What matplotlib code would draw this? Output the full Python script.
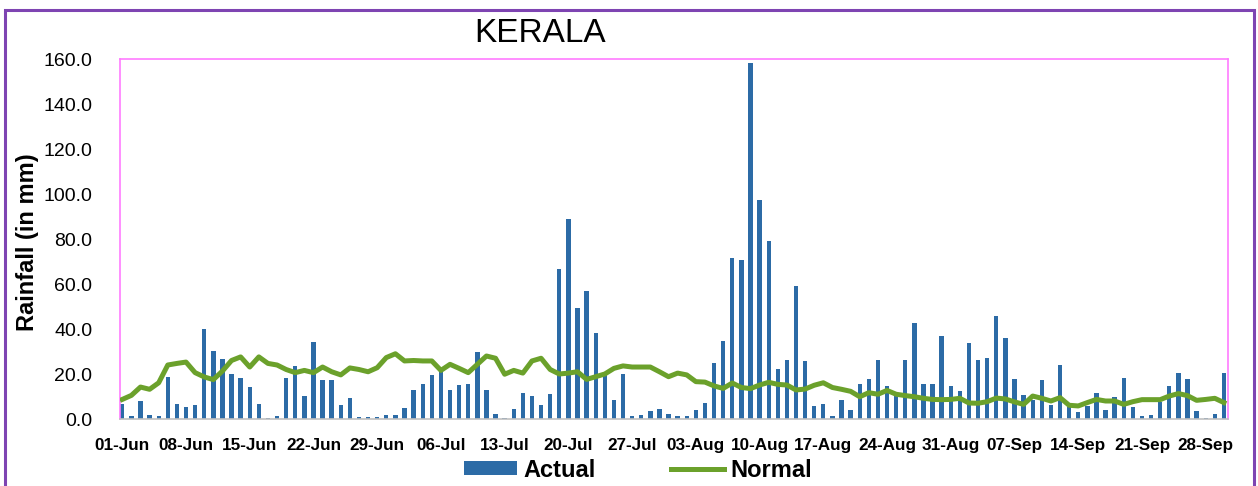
import numpy as np
import matplotlib
matplotlib.use("Agg")
import matplotlib.pyplot as plt
from matplotlib.patches import Rectangle, Patch
from matplotlib.lines import Line2D

plt.rcParams['font.family'] = ['Liberation Sans', 'DejaVu Sans']

title = "KERALA"
ylabel = "Rainfall (in mm)"
tick_labels = ["01-Jun", "08-Jun", "15-Jun", "22-Jun", "29-Jun", "06-Jul", "13-Jul",
               "20-Jul", "27-Jul", "03-Aug", "10-Aug", "17-Aug", "24-Aug", "31-Aug",
               "07-Sep", "14-Sep", "21-Sep", "28-Sep"]

actual = [
    6.8, 1.2, 8.0, 1.6, 1.2, 18.8, 6.8, 5.2, 6.2, 39.9, 30.2, 26.8, 20.0, 18.2, 14.2, 6.8, 0.6, 1.2, 18.2, 23.4, 10.2,
    34.4, 17.2, 17.2, 6.4, 9.2, 0.7, 0.7, 0.7, 1.6, 1.6, 4.7, 12.7, 15.6, 19.6, 21.2, 12.7, 15.0, 15.6, 29.8, 12.7, 2.4,
    0.6, 4.6, 11.4, 10.4, 6.4, 11.0, 66.7, 88.9, 49.2, 57.0, 38.2, 20.6, 8.6, 20.0, 1.2, 1.8, 3.4, 4.6, 2.4, 1.2,
    1.2, 4.0, 7.0, 25.0, 34.7, 71.4, 70.7, 158.4, 97.3, 79.3, 22.2, 26.2, 59.3, 25.6, 5.6, 6.8, 1.2, 8.6, 4.0, 15.4,
    17.6, 26.2, 14.8, 10.2, 26.2, 42.8, 15.4, 15.4, 37.0, 14.8, 12.6, 33.6, 26.2, 27.3, 46.0, 35.9, 17.6, 10.8, 8.6,
    17.2, 6.4, 24.0, 5.3, 3.0, 5.8, 11.4, 4.0, 9.8, 18.2, 5.2, 1.2, 1.8, 7.4, 14.8, 20.6, 17.6, 3.4, 0.6, 2.4, 20.6,
]

normal = [
    8.7, 10.5, 14.2, 13.2, 16.1, 24.0, 24.7, 25.3, 20.6, 18.7, 17.5, 21.3, 26.0, 27.6, 23.1, 27.6, 24.7, 24.0, 22.0, 20.6, 21.6,
    20.6, 23.1, 21.0, 19.6, 22.7, 22.0, 21.0, 22.8, 27.3, 29.0, 25.8, 26.0, 25.8, 25.8, 21.6, 24.3, 22.5, 20.6, 24.3, 28.0, 27.0,
    19.9, 21.6, 20.4, 25.8, 27.0, 22.0, 20.0, 20.4, 21.0, 17.6, 18.8, 20.0, 22.5, 23.6, 23.1, 23.1, 23.1, 21.0, 18.8, 20.4,
    19.6, 16.6, 16.4, 14.7, 13.6, 16.0, 14.0, 13.5, 15.1, 16.3, 15.4, 15.1, 12.9, 13.3, 15.0, 16.1, 14.0, 13.2, 12.3, 9.9,
    11.7, 11.0, 12.7, 11.0, 10.4, 9.9, 9.2, 8.7, 8.6, 8.7, 9.2, 7.1, 7.0, 7.7, 9.3, 8.9, 7.6, 6.5, 10.2,
    9.2, 8.0, 9.5, 6.1, 5.8, 7.3, 8.7, 8.0, 8.0, 6.5, 7.7, 8.6, 8.6, 8.6, 10.2, 11.3, 10.4, 8.3, 8.7, 9.2, 7.3,
]

BAR = "#2C6BA6"
GREEN = "#6BA12B"
PINK = "#FF7BFF"
PURPLE = "#7E44B2"

W, H = 1258, 486
fig = plt.figure(figsize=(W / 100, H / 100), dpi=100)
fig.patch.set_facecolor("white")

# outer border
fig.patches.append(Rectangle((5 / W, -0.05), 1249 / W, (H - 10) / H + 0.05, transform=fig.transFigure,
                             fill=False, edgecolor=PURPLE, linewidth=2.2, zorder=0))

ax = fig.add_axes([120 / W, (H - 419) / H, (1228 - 120) / W, (419 - 59) / H])
x = np.arange(len(actual))
ax.bar(x, actual, width=0.48, color=BAR, zorder=2)
ax.plot(x, normal, color=GREEN, linewidth=3.6, solid_joinstyle="round", zorder=3)

ax.set_xlim(-0.25, len(actual) - 1 + 0.45)
ax.set_ylim(0, 160)
ax.set_yticks(np.arange(0, 161, 20))
ax.set_yticklabels([f"{v:.1f}" for v in np.arange(0, 161, 20)], fontsize=14)
ax.set_xticks(np.arange(0, len(actual), 7)[:len(tick_labels)])
ax.set_xticklabels(tick_labels, fontsize=12.3, fontweight="bold")
ax.tick_params(axis="both", length=0)
ax.tick_params(axis="y", pad=20)
ax.tick_params(axis="x", pad=14)

for s in ["top", "left", "right"]:
    ax.spines[s].set_color(PINK)
    ax.spines[s].set_linewidth(1.2)
ax.spines["bottom"].set_color("#C0C0C0")
ax.spines["bottom"].set_linewidth(1.2)

fig.text(28 / W, 1 - 242 / H, ylabel, rotation=90, ha="center", va="center",
         fontsize=17, fontweight="bold")
fig.text(540 / W, 1 - 33 / H, title, ha="center", va="center", fontsize=24)

handles = [Patch(facecolor=BAR, edgecolor="none"),
           Line2D([0], [0], color=GREEN, linewidth=3.6)]
fig.legend(handles, ["Actual", "Normal"], loc="center", bbox_to_anchor=(638 / W, 1 - 470 / H),
           ncol=2, frameon=False, prop={"size": 17, "weight": "bold"},
           handlelength=2.25, handleheight=0.5, handletextpad=0.25, columnspacing=3.2,
           borderpad=0.0)

fig.savefig("out.png", dpi=100)
